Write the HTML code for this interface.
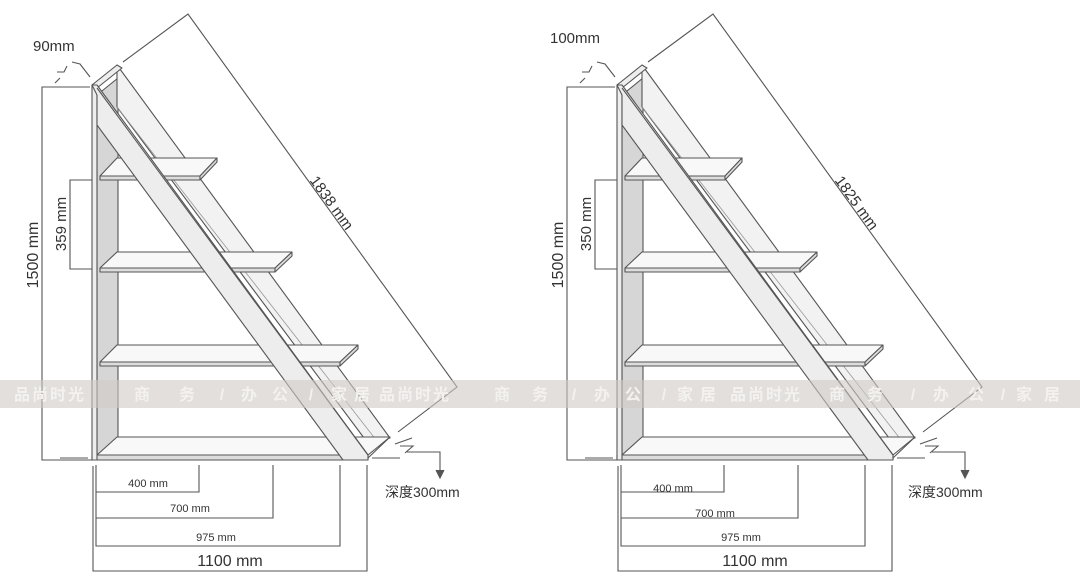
<!DOCTYPE html>
<html><head><meta charset="utf-8"><style>
html,body{margin:0;padding:0;background:#fff;}
svg{display:block;}
text{font-family:"Liberation Sans","Noto Sans CJK SC",sans-serif;fill:#333;}
.wm text{fill:#f4f2f0;font-weight:bold;}
</style></head><body>
<svg width="1080" height="577" viewBox="0 0 1080 577" xmlns="http://www.w3.org/2000/svg">
<defs>
<g id="shelf" stroke="#555" stroke-width="1.1" fill="#fff" stroke-linejoin="round">
  <polygon points="97,95 118,78 118,438 97,457" fill="#d6d6d6"/>
  <polygon points="117,65 390,438 367,442 117,107" fill="#f2f2f2"/>
  <line x1="117" y1="107" x2="380" y2="445" stroke="#999" stroke-width="0.8"/>
  <polygon points="117,158 217,158 200,176 100,176" fill="#f8f8f8"/>
  <polygon points="100,176 200,176 200,180 100,180" fill="#ddd"/>
  <polygon points="200,180 217,162 217,158 200,176" fill="#ddd"/>
  <polygon points="117,252 292,252 275,268 100,268" fill="#f8f8f8"/>
  <polygon points="100,268 275,268 275,272 100,272" fill="#ddd"/>
  <polygon points="275,272 292,256 292,252 275,268" fill="#ddd"/>
  <polygon points="117,345 358,345 340,362 100,362" fill="#f8f8f8"/>
  <polygon points="100,362 340,362 340,366 100,366" fill="#ddd"/>
  <polygon points="340,366 358,349 358,345 340,362" fill="#ddd"/>
  <polygon points="117,437 390,437 368,455 97,455" fill="#f8f8f8"/>
  <polygon points="92,455 368,455 368,460 92,460" fill="#ddd"/>
  <polygon points="92,85 97,82 97,460 92,460" fill="#eee"/>
  <polygon points="92,85 117,65 122,68 97,88" fill="#eee"/>
  <polygon points="92,85 97,85 368,455 368,460 343,460 97,125 97,95" fill="#ededed"/>
  <line x1="97" y1="88" x2="368" y2="455"/>
  <line x1="390" y1="437" x2="368" y2="458"/>
</g>
<g id="dims" stroke="#555" stroke-width="1.1" fill="none">
  <path d="M90,87 H42 V460 H92"/>
  <path d="M92,180 H70 V269 H92"/>
  <path d="M123,62 L188,14 L457,387 L398,432"/>
  <path d="M60,78 L55,83 M57,72 L64,72 L67,66 M72,62 L80,64 L90,77"/>
  <path d="M60,458 H88 M372,458 H400"/>
  <path d="M96,465 V492 H199 V465 M96,492 V518 H273 V465 M96,518 V546 H340 V465 M93,466 V571 H367 V465"/>
  <path d="M395,444 L412,438 M400,446 L413,446 L405,453 M407,452 H440 V476"/>
  <path d="M436,470 L440,478 L444,470" fill="#555"/>
</g>
</defs>
<use href="#shelf"/>
<use href="#dims"/>
<use href="#shelf" transform="translate(525,0)"/>
<use href="#dims" transform="translate(525,0)"/>

<text x="33" y="51" font-size="15">90mm</text>
<text transform="translate(38,255) rotate(-90)" font-size="16" text-anchor="middle">1500 mm</text>
<text transform="translate(66,224) rotate(-90)" font-size="15" text-anchor="middle">359 mm</text>
<text transform="translate(326,207) rotate(54)" font-size="15" text-anchor="middle" y="-2">1838 mm</text>
<text x="148" y="487" font-size="11" text-anchor="middle">400 mm</text>
<text x="190" y="512" font-size="11" text-anchor="middle">700 mm</text>
<text x="216" y="541" font-size="11" text-anchor="middle">975 mm</text>
<text x="230" y="566" font-size="16" text-anchor="middle">1100 mm</text>
<text x="385" y="497" font-size="14">深度300mm</text>

<text x="550" y="43" font-size="15">100mm</text>
<text transform="translate(563,255) rotate(-90)" font-size="16" text-anchor="middle">1500 mm</text>
<text transform="translate(591,224) rotate(-90)" font-size="15" text-anchor="middle">350 mm</text>
<text transform="translate(851,207) rotate(54)" font-size="15" text-anchor="middle" y="-2">1825 mm</text>
<text x="673" y="492" font-size="11" text-anchor="middle">400 mm</text>
<text x="715" y="517" font-size="11" text-anchor="middle">700 mm</text>
<text x="741" y="541" font-size="11" text-anchor="middle">975 mm</text>
<text x="755" y="566" font-size="16" text-anchor="middle">1100 mm</text>
<text x="908" y="497" font-size="14">深度300mm</text>

<rect x="0" y="380" width="1080" height="28" fill="#cfc9c4" opacity="0.6"/>
<g class="wm" font-size="16" text-anchor="middle">
<text x="50" y="400" letter-spacing="2">品尚时光</text>
<text x="142" y="400">商</text><text x="187" y="400">务</text><text x="222" y="400">/</text><text x="249" y="400">办</text><text x="280" y="400">公</text><text x="311" y="400">/</text><text x="339" y="400">家</text><text x="362" y="400">居</text>
<text x="415" y="400" letter-spacing="2">品尚时光</text>
<text x="502" y="400">商</text><text x="540" y="400">务</text><text x="574" y="400">/</text><text x="602" y="400">办</text><text x="633" y="400">公</text><text x="664" y="400">/</text><text x="685" y="400">家</text><text x="708" y="400">居</text>
<text x="766" y="400" letter-spacing="2">品尚时光</text>
<text x="837" y="400">商</text><text x="875" y="400">务</text><text x="913" y="400">/</text><text x="941" y="400">办</text><text x="976" y="400">公</text><text x="1003" y="400">/</text><text x="1024" y="400">家</text><text x="1052" y="400">居</text>
</g>
</svg>
</body></html>
